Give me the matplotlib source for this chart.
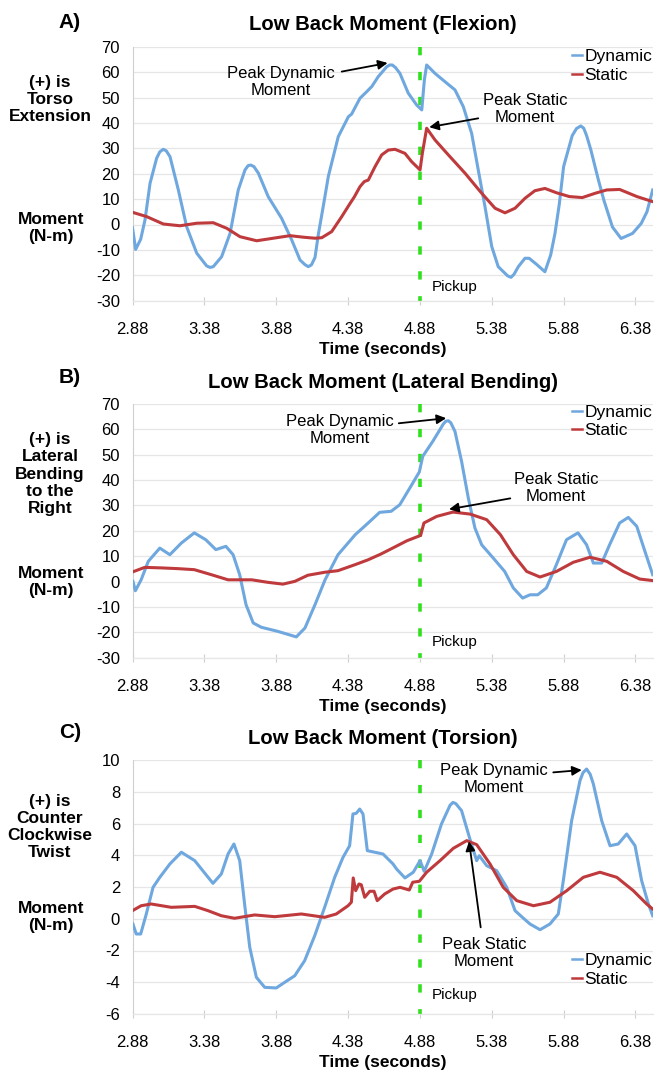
import matplotlib
matplotlib.use("Agg")
import matplotlib.pyplot as plt

plt.rcParams['font.family'] = ['Liberation Sans', 'DejaVu Sans']

# ---------------- data ----------------
time_ticks = [2.88, 3.38, 3.88, 4.38, 4.88, 5.38, 5.88, 6.38]
tick_labels = ["2.88", "3.38", "3.88", "4.38", "4.88", "5.38", "5.88", "6.38"]
pickup_time = 4.88

# Panel A - Flexion
a_dyn_t = [2.88, 2.902, 2.937, 2.967, 3.002, 3.048, 3.07, 3.094, 3.115, 3.141, 3.199, 3.257, 3.327, 3.396,
           3.42, 3.442, 3.50, 3.559, 3.616, 3.663, 3.685, 3.703, 3.725, 3.756, 3.825, 3.918, 3.988, 4.046,
           4.08, 4.103, 4.125, 4.15, 4.173, 4.21, 4.243, 4.312, 4.382, 4.405, 4.463, 4.51, 4.545, 4.59,
           4.649, 4.67, 4.688, 4.71, 4.741, 4.799, 4.858, 4.893, 4.911, 4.927, 4.985, 5.055, 5.124, 5.182,
           5.24, 5.286, 5.333, 5.38, 5.425, 5.472, 5.49, 5.514, 5.535, 5.565, 5.611, 5.64, 5.69, 5.75,
           5.79, 5.82, 5.85, 5.88, 5.94, 5.97, 6.00, 6.02, 6.04, 6.07, 6.12, 6.16, 6.22, 6.28, 6.36,
           6.42, 6.46, 6.50]
a_dyn_v = [-1.3, -9.8, -5.8, 1.8, 16.2, 26.1, 28.6, 29.6, 29.0, 26.7, 13.6, -0.9, -11.3, -16.3,
           -16.9, -16.6, -12.7, -3.5, 13.6, 21.5, 23.2, 23.4, 22.8, 20.2, 10.9, 2.4, -6.1, -14.0,
           -15.8, -16.6, -15.9, -13.0, -4.0, 8.0, 19.0, 34.6, 42.4, 43.5, 49.7, 52.3, 54.3, 58.2,
           62.1, 62.8, 62.8, 61.8, 59.5, 51.7, 47.0, 45.1, 56.9, 62.8, 59.5, 56.2, 53.0, 46.4,
           35.9, 21.5, 7.0, -8.7, -16.6, -19.2, -20.2, -20.8, -19.6, -16.6, -13.3, -13.3, -15.6, -18.6,
           -12.0, -3.5, 8.0, 22.8, 35.0, 37.8, 38.8, 37.9, 35.0, 29.3, 18.0, 9.6, -1.0, -5.5, -3.5,
           0.4, 5.0, 13.6]
a_sta_t = [2.88, 2.979, 3.094, 3.21, 3.327, 3.442, 3.536, 3.628, 3.744, 3.86, 3.976, 4.069, 4.15, 4.197,
           4.266, 4.336, 4.394, 4.424, 4.463, 4.493, 4.521, 4.568, 4.614, 4.66, 4.707, 4.776, 4.823, 4.881,
           4.897, 4.927, 4.985, 5.078, 5.194, 5.31, 5.403, 5.472, 5.542, 5.611, 5.68, 5.75, 5.83, 5.92,
           6.01, 6.10, 6.18, 6.27, 6.39, 6.50]
a_sta_v = [4.8, 3.1, 0.2, -0.5, 0.5, 0.7, -1.5, -4.8, -6.4, -5.4, -4.4, -5.0, -5.4, -5.2,
           -2.8, 3.1, 8.3, 10.9, 14.9, 16.9, 17.5, 22.8, 27.4, 29.3, 29.6, 28.0, 24.7, 21.5,
           28.0, 37.9, 33.3, 27.4, 20.2, 12.3, 6.4, 4.6, 6.4, 10.3, 13.3, 14.2, 12.5, 11.0,
           10.6, 12.3, 13.6, 13.8, 11.0, 9.0]

# Panel B - Lateral bending
b_dyn_t = [2.883, 2.90, 2.94, 2.99, 3.07, 3.14, 3.22, 3.31, 3.39, 3.46, 3.53, 3.58, 3.626, 3.67, 3.72,
           3.776, 3.89, 4.02, 4.08, 4.15, 4.22, 4.31, 4.43, 4.52, 4.60, 4.68, 4.74, 4.81, 4.876, 4.90,
           4.97, 5.043, 5.06, 5.078, 5.095, 5.124, 5.17, 5.217, 5.263, 5.31, 5.39, 5.47, 5.53, 5.595,
           5.646, 5.70, 5.76, 5.83, 5.90, 5.98, 6.04, 6.087, 6.145, 6.20, 6.27, 6.33, 6.389, 6.446, 6.50]
b_dyn_v = [0.1, -3.6, 0.7, 8.0, 13.2, 10.6, 15.2, 19.2, 16.5, 12.6, 13.9, 10.6, 2.7, -9.1, -16.3,
           -18.0, -19.6, -21.8, -18.3, -9.1, 0.7, 10.6, 18.5, 23.1, 27.3, 27.7, 30.3, 36.9, 43.2, 49.4,
           55.3, 62.1, 63.2, 63.4, 62.6, 59.2, 47.4, 32.9, 21.1, 14.5, 9.3, 4.0, -2.5, -6.5,
           -5.2, -5.2, -2.5, 6.7, 16.5, 19.2, 14.5, 7.3, 7.3, 14.5, 23.1, 25.3, 21.8, 11.9, 2.7]
b_sta_t = [2.88, 2.965, 3.08, 3.197, 3.31, 3.43, 3.545, 3.71, 3.823, 3.927, 4.01, 4.10, 4.22, 4.31,
           4.43, 4.52, 4.61, 4.69, 4.79, 4.885, 4.908, 4.997, 5.11, 5.23, 5.345, 5.44, 5.53, 5.623,
           5.716, 5.83, 5.947, 6.064, 6.18, 6.295, 6.41, 6.50]
b_sta_v = [3.8, 5.6, 5.4, 5.1, 4.7, 2.7, 0.7, 0.7, -0.3, -1.0, 0.1, 2.5, 3.7, 4.3,
           6.7, 8.6, 10.9, 13.2, 16.1, 18.2, 23.1, 25.7, 27.4, 26.6, 24.4, 18.5, 10.6, 4.0,
           1.8, 4.0, 7.6, 9.6, 8.0, 4.0, 1.0, 0.4]

# Panel C - Torsion
c_dyn_t = [2.883, 2.906, 2.937, 2.976, 3.023, 3.07, 3.14, 3.22, 3.313, 3.44, 3.498, 3.545, 3.586, 3.626,
           3.66, 3.696, 3.742, 3.80, 3.88, 3.95, 4.009, 4.078, 4.148, 4.217, 4.287, 4.345, 4.391, 4.414,
           4.437, 4.461, 4.484, 4.514, 4.565, 4.623, 4.693, 4.718, 4.776, 4.834, 4.881, 4.91, 4.962,
           5.03, 5.09, 5.11, 5.13, 5.17, 5.228, 5.275, 5.293, 5.345, 5.414, 5.484, 5.542, 5.588, 5.646,
           5.716, 5.785, 5.843, 5.878, 5.936, 5.994, 6.015, 6.04, 6.065, 6.087, 6.145, 6.203, 6.26, 6.319,
           6.377, 6.423, 6.47, 6.50]
c_dyn_v = [-0.33, -0.96, -0.96, 0.30, 1.98, 2.61, 3.45, 4.19, 3.66, 2.23, 2.82, 4.08, 4.71, 3.66,
           0.93, -1.80, -3.69, -4.32, -4.36, -3.94, -3.59, -2.64, -1.07, 0.72, 2.61, 3.87, 4.60, 6.60,
           6.64, 6.91, 6.60, 4.29, 4.19, 4.08, 3.45, 3.13, 2.57, 2.93, 3.66, 2.99, 4.08,
           5.97, 7.15, 7.33, 7.25, 6.81, 5.02, 3.66, 3.97, 3.34, 3.03, 1.98, 0.51, 0.13, -0.33,
           -0.69, -0.33, 0.30, 2.40, 6.18, 8.70, 9.20, 9.43, 9.10, 8.49, 6.18, 4.60, 4.71, 5.34,
           4.60, 2.40, 0.93, 0.19]
c_sta_t = [2.88, 2.94, 3.01, 3.15, 3.313, 3.405, 3.498, 3.59, 3.73, 3.87, 4.055, 4.217, 4.298, 4.38,
           4.403, 4.416, 4.433, 4.456, 4.472, 4.496, 4.531, 4.561, 4.583, 4.635, 4.693, 4.742, 4.806,
           4.83, 4.876, 4.927, 5.02, 5.113, 5.206, 5.275, 5.368, 5.46, 5.554, 5.67, 5.785, 5.902,
           6.017, 6.133, 6.25, 6.365, 6.458, 6.50]
c_sta_v = [0.51, 0.82, 0.93, 0.72, 0.78, 0.51, 0.19, 0.03, 0.24, 0.13, 0.30, 0.09, 0.30, 0.82,
           1.04, 2.57, 1.77, 2.19, 2.14, 1.35, 1.73, 1.73, 1.14, 1.56, 1.87, 1.98, 1.81,
           2.30, 2.36, 2.93, 3.66, 4.44, 4.92, 4.67, 3.45, 1.98, 1.14, 0.82, 1.04, 1.77,
           2.61, 2.93, 2.61, 1.77, 0.93, 0.61]

# ---------------- styling ----------------
W, H = 657, 1073
BLUE = '#6fa7df'
RED = '#bf3a3c'
GREEN = '#30e01c'
GRID = '#e6e6e6'
AXC = '#cfcfcf'

fig = plt.figure(figsize=(W / 100, H / 100), dpi=100)


def fx(x):
    return x / W


def fy(y):
    return 1 - y / H


X_LEFT, X_RIGHT = 132.5, 652.7

panels = [
    dict(top=46.7, bot=300.7, ylim=(-30, 70), yticks=list(range(-30, 71, 10)),
         letter="A)", letter_y=23, title="Low Back Moment (Flexion)", title_y=25,
         side="(+) is\nTorso\nExtension", side_y=99.5, mom_y=228, xlabel_y=350,
         dyn=(a_dyn_t, a_dyn_v), sta=(a_sta_t, a_sta_v),
         leg_y=(60, 81.7),
         pd_text=(3.913, 56.0), pd_arrow=((4.336, 60.2), (4.655, 63.6)),
         ps_text=(5.611, 45.5), ps_arrow=((5.286, 41.8), (4.945, 38.3)),
         pickup=(4.961, -24.5)),
    dict(top=404, bot=657.7, ylim=(-30, 70), yticks=list(range(-30, 71, 10)),
         letter="B)", letter_y=378, title="Low Back Moment (Lateral Bending)", title_y=382,
         side="(+) is\nLateral\nBending\nto the\nRight", side_y=474, mom_y=582, xlabel_y=706.7,
         dyn=(b_dyn_t, b_dyn_v), sta=(b_sta_t, b_sta_v),
         leg_y=(415.5, 438),
         pd_text=(4.323, 59.75), pd_arrow=((4.733, 62.4), (5.063, 64.4)),
         ps_text=(5.827, 36.8), ps_arrow=((5.509, 32.8), (5.083, 28.5)),
         pickup=(4.961, -23.7)),
    dict(top=760, bot=1014, ylim=(-6, 10), yticks=list(range(-6, 11, 2)),
         letter="C)", letter_y=733, title="Low Back Moment (Torsion)", title_y=738,
         side="(+) is\nCounter\nClockwise\nTwist", side_y=827, mom_y=917, xlabel_y=1063,
         dyn=(c_dyn_t, c_dyn_v), sta=(c_sta_t, c_sta_v),
         leg_y=(964, 986.5),
         pd_text=(5.394, 8.78), pd_arrow=((5.808, 9.22), (6.006, 9.37)),
         ps_text=(5.326, -2.16), ps_arrow=((5.303, -0.54), (5.222, 4.88)),
         pickup=(4.961, -4.8)),
]

TICK_FS = 12
ANN_FS = 12
BOLD_FS = 12.5

for p in panels:
    ax = fig.add_axes([fx(X_LEFT), fy(p['bot']), fx(X_RIGHT) - fx(X_LEFT),
                       (p['bot'] - p['top']) / H])
    ax.set_xlim(2.88, 6.50)
    ax.set_ylim(*p['ylim'])
    ax.set_yticks(p['yticks'])
    ax.set_yticklabels([str(v) for v in p['yticks']])
    ax.set_xticks(time_ticks)
    ax.set_xticklabels(tick_labels)
    ax.yaxis.grid(True, color=GRID, lw=0.9)
    ax.set_axisbelow(True)
    for s in ['top', 'right']:
        ax.spines[s].set_visible(False)
    ax.spines['left'].set_color(AXC)
    ax.spines['left'].set_linewidth(0.8)
    ax.spines['bottom'].set_color(GRID)
    ax.spines['bottom'].set_linewidth(0.9)
    ax.tick_params(axis='y', length=0, pad=9, labelsize=TICK_FS)
    ax.tick_params(axis='x', direction='inout', length=6, width=0.8, color=AXC,
                   pad=12, labelsize=TICK_FS)

    # pickup marker, drawn top-down so the pattern starts with a dash at the top
    ax.plot([pickup_time, pickup_time], [p['ylim'][1], p['ylim'][0]], color=GREEN, lw=2.6,
            linestyle=(0, (2.3, 4.6)), dash_capstyle='butt', zorder=2, clip_on=False)
    ld, = ax.plot(*p['dyn'], color=BLUE, lw=2.2, solid_joinstyle='round', zorder=3, label='Dynamic')
    ls, = ax.plot(*p['sta'], color=RED, lw=2.2, solid_joinstyle='round', zorder=3, label='Static')

    # annotations
    ax.text(*p['pd_text'], "Peak Dynamic\nMoment", fontsize=ANN_FS, ha='center', va='center',
            linespacing=1.15, zorder=4)
    ax.annotate("", xy=p['pd_arrow'][1], xytext=p['pd_arrow'][0],
                arrowprops=dict(arrowstyle='-|>', color='black', lw=1.3,
                                mutation_scale=14, shrinkA=0, shrinkB=0))
    ax.text(*p['ps_text'], "Peak Static\nMoment", fontsize=ANN_FS, ha='center', va='center',
            linespacing=1.15, zorder=4)
    ax.annotate("", xy=p['ps_arrow'][1], xytext=p['ps_arrow'][0],
                arrowprops=dict(arrowstyle='-|>', color='black', lw=1.3,
                                mutation_scale=14, shrinkA=0, shrinkB=0))
    ax.text(*p['pickup'], "Pickup", fontsize=11, ha='left', va='center')

    # legend
    leg = ax.legend(handles=[ld, ls], loc='upper left',
                    bbox_to_anchor=(fx(571.5), fy(p['leg_y'][0] - 11)),
                    bbox_transform=fig.transFigure, frameon=False, fontsize=12.5,
                    handlelength=0.6, handletextpad=0.15, labelspacing=0.2,
                    borderpad=0, borderaxespad=0)
    for h in leg.legend_handles:
        h.set_linewidth(1.8)

    # figure texts
    fig.text(fx(70), fy(p['letter_y']), p['letter'], fontsize=15, fontweight='bold',
             ha='center', va='center')
    fig.text(fx(383), fy(p['title_y']), p['title'], fontsize=14.6, fontweight='bold',
             ha='center', va='center')
    fig.text(fx(50), fy(p['side_y']), p['side'], fontsize=BOLD_FS, fontweight='bold',
             ha='center', va='center', linespacing=1.18)
    fig.text(fx(51), fy(p['mom_y']), "Moment\n(N-m)", fontsize=BOLD_FS, fontweight='bold',
             ha='center', va='center', linespacing=1.18)
    fig.text(fx(383), fy(p['xlabel_y']), "Time (seconds)", fontsize=BOLD_FS, fontweight='bold',
             ha='center', va='center')

fig.savefig("out.png", dpi=100)
